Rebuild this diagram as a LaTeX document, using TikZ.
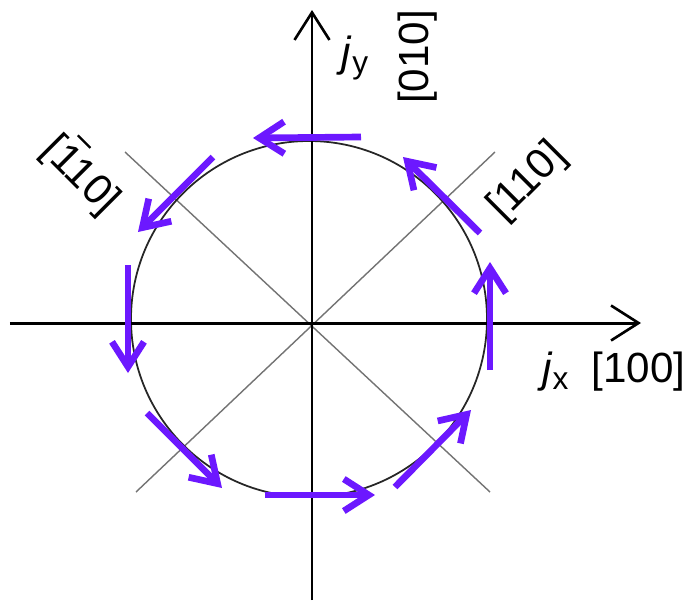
\documentclass[tikz,border=0pt]{standalone}
\usepackage{fontspec}
\setmainfont{Liberation Sans}
\usepackage{tikz}
\usetikzlibrary{arrows.meta}
\definecolor{currviolet}{RGB}{108,24,255}
\tikzset{
    axis/.style={line width=1.7pt, -{Straight Barb[length=5.5mm, width=7mm, line width=1.5pt]}},
    diag/.style={line width=0.8pt, black!55},
    ring/.style={line width=1pt, black!85},
    curr/.style={line width=3.8pt, currviolet, -{Straight Barb[length=5mm, width=6.4mm]}},
    lbl/.style={font=\fontsize{24}{28}\selectfont, inner sep=0pt},
}
\newcommand{\jsub}[1]{\textit{j}\raisebox{-0.35ex}{\fontsize{18}{20}\selectfont #1}}
\newcommand{\barone}{\makebox[0pt][l]{\hspace{0.08em}\raisebox{0.88em}{\rule{0.42em}{1.3pt}}}1}

\begin{document}
\begin{tikzpicture}
    \useasboundingbox (-6.24,-5.54) rectangle (7.48,6.46);
    % axes and crystal directions
    \coordinate (xl) at (-6.04,0);
    \coordinate (xr) at (6.58,0);
    \coordinate (yb) at (0,-5.54);
    \coordinate (yt) at (0,6.26);
    \coordinate (da1) at (-3.74,3.42);
    \coordinate (da2) at (3.56,-3.38);
    \coordinate (db1) at (-3.52,-3.38);
    \coordinate (db2) at (3.66,3.42);
    \coordinate (ctr) at (-0.06,0.08);
    \draw[diag] (da1) -- (da2);
    \draw[diag] (db1) -- (db2);
    \draw[ring] (ctr) circle (3.56);
    \draw[axis] (xl) -- (xr);
    \draw[axis] (yb) -- (yt);
    % current loop
    \coordinate (c1s) at (0.98,3.72);   \coordinate (c1e) at (-1.18,3.70);
    \coordinate (c2s) at (-1.98,3.32);  \coordinate (c2e) at (-3.48,1.82);
    \coordinate (c3s) at (-3.68,1.16);  \coordinate (c3e) at (-3.68,-1.00);
    \coordinate (c4s) at (-3.30,-1.80); \coordinate (c4e) at (-1.80,-3.30);
    \coordinate (c5s) at (-0.94,-3.44); \coordinate (c5e) at (1.26,-3.44);
    \coordinate (c6s) at (1.66,-3.28);  \coordinate (c6e) at (3.18,-1.74);
    \coordinate (c7s) at (3.56,-0.94);  \coordinate (c7e) at (3.56,1.22);
    \coordinate (c8s) at (3.36,1.80);   \coordinate (c8e) at (1.82,3.32);
    \foreach \i in {1,...,8}
        \draw[curr] (c\i s) -- (c\i e);
    % labels
    \node[lbl] (jy) at (0.86,5.30) {\jsub{y}};
    \node[lbl, rotate=90] (l010) at (2.12,5.32) {[010]};
    \node[lbl, anchor=base west] (jx) at (4.60,-1.18) {\jsub{x}\hspace{0.55em}[100]};
    \node[lbl, rotate=-45] (lm110) at (-4.58,3.00) {[\barone10]};
    \node[lbl, rotate=45] (l110) at (4.32,2.82) {[110]};
\end{tikzpicture}
\end{document}
